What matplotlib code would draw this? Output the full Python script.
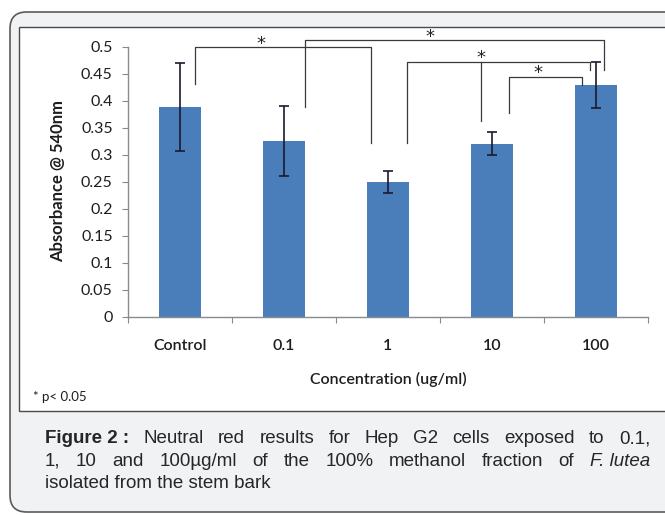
import numpy as np
import matplotlib
matplotlib.use('Agg')
from matplotlib import pyplot as plt
from matplotlib.patches import FancyBboxPatch, Rectangle

# neutral red absorbance per concentration
categories = ['Control', '0.1', '1', '10', '100']
absorbance = [0.388, 0.325, 0.249, 0.320, 0.429]
errors = [0.082, 0.064, 0.021, 0.021, 0.043]
yticks = [0, 0.05, 0.1, 0.15, 0.2, 0.25, 0.3, 0.35, 0.4, 0.45, 0.5]

# significance brackets (category units / absorbance units)
br_left = [0.14, 1.20, 2.18, 3.16]
br_right = [1.84, 4.08, 3.94, 3.87]
br_top = [0.4985, 0.512, 0.472, 0.444]
foot_left = [0.430, 0.3885, 0.321, 0.376]
foot_right = [0.321, 0.4565, 0.4565, 0.4287]
star_x = [0.78, 2.40, 2.89, 3.44]
# extra drop line from the 1-100 bracket down towards the 10 bar
drop_x = 2.89
drop_bottom = 0.3626

caption = [
    [('Figure 2 :', 'bold'), ('Neutral', ''), ('red', ''), ('results', ''), ('for', ''), ('Hep', ''),
     ('G2', ''), ('cells', ''), ('exposed', ''), ('to', ''), ('0.1,', '')],
    [('1,', ''), ('10', ''), ('and', ''), ('100µg/ml', ''), ('of', ''), ('the', ''), ('100%', ''),
     ('methanol', ''), ('fraction', ''), ('of', ''), ('F. lutea', 'italic')],
    [('isolated from the stem bark', '')],
]

W, H = 665, 515
fig = plt.figure(figsize=(W / 100, H / 100), dpi=100)
fig.patch.set_facecolor('white')

def fx(x):
    return x / W

def fy(y):
    return 1 - y / H

# outer rounded panel and white chart frame
outer = FancyBboxPatch((fx(10), fy(512)), fx(700), (512 - 12) / H,
                       boxstyle='round,pad=0,rounding_size=0.025',
                       transform=fig.transFigure, facecolor='#f1f2f4',
                       edgecolor='#5a5a5a', linewidth=1.2, mutation_aspect=W / H, zorder=-2)
fig.patches.append(outer)
inner = Rectangle((fx(19), fy(411)), fx(700), (411 - 27) / H, transform=fig.transFigure,
                  facecolor='white', edgecolor='#4a4a4a', linewidth=1.0, zorder=-1)
fig.patches.append(inner)

ax = fig.add_axes([fx(128), fy(316.5), fx(648) - fx(128), 270 / H])
ax.set_facecolor('none')
x = np.arange(len(categories))
ax.bar(x, absorbance, width=0.4, color='#4a7ebb', zorder=2)
ax.errorbar(x, absorbance, yerr=errors, fmt='none', ecolor='#1a1a2e',
            elinewidth=1.2, capsize=3.5, capthick=1.2, zorder=3)

ax.set_xlim(-0.5, 4.5)
ax.set_ylim(0, 0.5)
for s in ['top', 'right']:
    ax.spines[s].set_visible(False)
for s in ['left', 'bottom']:
    ax.spines[s].set_color('#8a8a8a')
    ax.spines[s].set_linewidth(1.0)

font = 'Lato'
ax.set_yticks(yticks)
ax.set_yticklabels([('%g' % v) for v in yticks], fontsize=11.5, family=font, color='#1e1e1e')
ax.tick_params(axis='y', direction='out', length=4, color='#8a8a8a', pad=7)
ax.set_xticks(np.arange(-0.5, 5, 1.0))
ax.set_xticklabels([])
ax.tick_params(axis='x', which='major', direction='out', length=4, color='#8a8a8a')
ax.set_xticks(x, minor=True)
ax.set_xticklabels(categories, minor=True, fontsize=11.5, family=font,
                   fontweight='semibold', color='#1e1e1e')
ax.tick_params(axis='x', which='minor', length=0, pad=16)

ax.set_xlabel('Concentration (ug/ml)', fontsize=11.5, family=font, fontweight='semibold',
              color='#1e1e1e', labelpad=14)
ax.set_ylabel('Absorbance @ 540nm', fontsize=12, family=font, fontweight='bold',
              color='#1e1e1e', labelpad=11)

lc = '#3a3a3a'
for i in range(len(br_left)):
    ax.plot([br_left[i], br_left[i], br_right[i], br_right[i]],
            [foot_left[i], br_top[i], br_top[i], foot_right[i]],
            color=lc, linewidth=0.9, clip_on=False, zorder=4)
    ax.text(star_x[i], br_top[i] - 0.003, '*', ha='center', va='baseline',
            fontsize=13, family='DejaVu Sans', color='#222222', clip_on=False)
ax.plot([drop_x, drop_x], [br_top[2], drop_bottom], color=lc, linewidth=0.9,
        clip_on=False, zorder=4)

fig.text(fx(33), fy(397), '* p< 0.05', fontsize=9.5, family=font, color='#1e1e1e',
         va='center', ha='left')

# caption, justified on the first two lines
fig.canvas.draw()
renderer = fig.canvas.get_renderer()
cap_left, cap_right = 45, 650
line_y = [443, 466, 488]
for li, words in enumerate(caption):
    items = []
    for w, style in words:
        t = fig.text(0, fy(line_y[li]), w, fontsize=13.5, family='Liberation Sans',
                     fontweight='bold' if style == 'bold' else 'normal',
                     fontstyle='italic' if style == 'italic' else 'normal',
                     color='#262626', va='baseline', ha='left')
        items.append(t)
    widths = [t.get_window_extent(renderer).width for t in items]
    if li < 2 and len(items) > 1:
        gap = (cap_right - cap_left - sum(widths)) / (len(items) - 1)
    else:
        gap = 0
    pos = cap_left
    for t, w in zip(items, widths):
        t.set_x(fx(pos))
        pos += w + gap

fig.savefig('out.png', dpi=100)
